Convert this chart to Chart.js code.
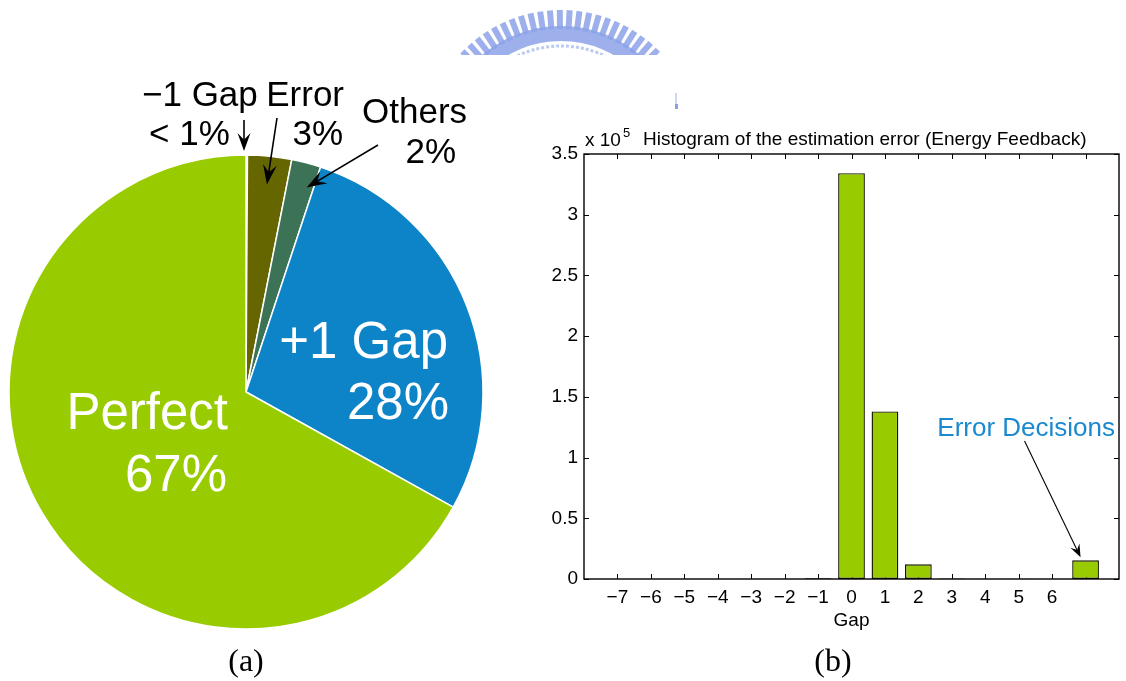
<!DOCTYPE html>
<html>
<head>
<meta charset="utf-8">
<title>Gap estimation error</title>
<script src="https://cdn.jsdelivr.net/npm/chart.js@4.4.0/dist/chart.umd.min.js"></script>
<style>
  html, body { margin: 0; padding: 0; background: #fff; }
  body { position: relative; width: 1126px; height: 681px; overflow: hidden; }
  canvas { position: absolute; top: 0; }
  #emblem { left: 0; z-index: 0; }
  #pieCanvas { left: 0; z-index: 1; }
  #barCanvas { left: 530px; z-index: 1; }
  .caption {
    position: absolute; top: 640px; width: 80px; text-align: center;
    font-family: "Liberation Serif", "DejaVu Serif", serif; font-size: 32px; color: #000;
    line-height: 40px; z-index: 2;
  }
</style>
</head>
<body>
<canvas id="emblem" width="1126" height="681"></canvas>
<canvas id="pieCanvas" width="530" height="681"></canvas>
<canvas id="barCanvas" width="596" height="681"></canvas>
<div class="caption" style="left:206px">(a)</div>
<div class="caption" style="left:793px">(b)</div>

<script>
// ---- pie: share of each estimation outcome (percent) ----
const sliceLabels      = ['\u22121 Gap', 'Error', 'Others', '+1 Gap', 'Perfect'];
const slicePercentText = ['< 1%', '3%', '2%', '28%', '67%'];
const sliceValues      = [0.1, 3, 2, 28, 67];
const sliceColors      = ['#e8e8e8', '#666600', '#3c7356', '#0c84c7', '#99cc00'];

// ---- histogram: estimation error per gap bin (counts) ----
const gapBins       = [-7, -6, -5, -4, -3, -2, -1, 0, 1, 2, 3, 4, 5, 6, 7];
const gapCounts     = [50, 60, 80, 100, 150, 250, 600, 334200, 138000, 12100, 400, 200, 120, 80, 15400];
const gapTickLabels = ['\u22127', '\u22126', '\u22125', '\u22124', '\u22123', '\u22122', '\u22121',
                       '0', '1', '2', '3', '4', '5', '6', ''];
const countTickLabels = ['0', '0.5', '1', '1.5', '2', '2.5', '3', '3.5'];

const SANS = "'Liberation Sans', Arial, Helvetica, sans-serif";

// ---------- background emblem ----------
(function drawEmblem() {
  const c = document.getElementById('emblem').getContext('2d');
  c.save();
  c.beginPath(); c.rect(440, 0, 250, 55); c.clip();
  c.filter = 'blur(0.7px)';
  const cx = 561, cy = 148;
  c.fillStyle = 'rgba(140,162,232,0.85)';
  c.beginPath();
  c.arc(cx, cy, 122, 0, Math.PI * 2);
  c.arc(cx, cy, 107, 0, Math.PI * 2, true);
  c.fill();
  for (let a = -62; a <= 62; a += 4.1) {
    c.save();
    c.translate(cx, cy);
    c.rotate(a * Math.PI / 180);
    c.fillRect(-3, -138, 6, 19);
    c.restore();
  }
  c.strokeStyle = 'rgba(180,196,240,0.9)';
  c.lineWidth = 3;
  c.setLineDash([3, 2]);
  c.beginPath(); c.arc(cx, cy, 102, Math.PI, Math.PI * 2); c.stroke();
  c.restore();
  // small fragment to the right
  c.fillStyle = 'rgba(195,205,238,0.8)';
  c.fillRect(675, 93, 2, 14);
  c.fillStyle = 'rgba(130,150,228,0.9)';
  c.fillRect(675, 104, 3, 5);
})();

// ---------- helpers ----------
function drawArrow(ctx, x1, y1, x2, y2, len, wid, lw) {
  const ang = Math.atan2(y2 - y1, x2 - x1);
  ctx.save();
  ctx.strokeStyle = '#000';
  ctx.fillStyle = '#000';
  ctx.lineWidth = lw;
  ctx.beginPath();
  ctx.moveTo(x1, y1);
  ctx.lineTo(x2 - Math.cos(ang) * len * 0.6, y2 - Math.sin(ang) * len * 0.6);
  ctx.stroke();
  ctx.translate(x2, y2);
  ctx.rotate(ang);
  ctx.beginPath();
  ctx.moveTo(0, 0);
  ctx.lineTo(-len, -wid / 2);
  ctx.lineTo(-len * 0.62, 0);
  ctx.lineTo(-len, wid / 2);
  ctx.closePath();
  ctx.fill();
  ctx.restore();
}

function pointOnArc(el, angle, r) {
  return { x: el.x + Math.cos(angle) * r, y: el.y + Math.sin(angle) * r };
}

// ---------- pie labels and call-outs ----------
const pieLabelPlugin = {
  id: 'pieLabels',
  afterDraw(chart) {
    const ctx = chart.ctx;
    const arcs = chart.getDatasetMeta(0).data;
    const cx = arcs[0].x, cy = arcs[0].y, R = arcs[0].outerRadius;
    ctx.save();

    // labels inside the two large slices
    ctx.fillStyle = '#fff';
    ctx.font = '51px ' + SANS;
    ctx.textAlign = 'right';
    ctx.textBaseline = 'alphabetic';
    ctx.fillText(sliceLabels[4], cx - 18, cy + 37);
    ctx.fillText(slicePercentText[4], cx - 19, cy + 99);
    ctx.fillText(sliceLabels[3], cx + 202, cy - 34);
    ctx.fillText(slicePercentText[3], cx + 203, cy + 27);

    // labels outside for the small slices
    ctx.fillStyle = '#000';
    ctx.font = '35px ' + SANS;
    ctx.textAlign = 'left';
    ctx.fillText(sliceLabels[0], cx - 104, cy - 286);
    ctx.fillText(slicePercentText[0], cx - 97, cy - 247);
    ctx.textAlign = 'right';
    ctx.fillText(sliceLabels[1], cx + 98, cy - 286);
    ctx.fillText(slicePercentText[1], cx + 97, cy - 247);
    ctx.textAlign = 'left';
    ctx.fillText(sliceLabels[2], cx + 116, cy - 269);
    ctx.textAlign = 'right';
    ctx.fillText(slicePercentText[2], cx + 210, cy - 229);

    // arrows pointing at the small slices
    const a0 = arcs[0];
    const t0 = pointOnArc(a0, a0.startAngle, R + 4);
    drawArrow(ctx, t0.x - 2, t0.y - 31, t0.x - 2, t0.y, 18, 13, 1.6);

    const a1 = arcs[1];
    const t1 = pointOnArc(a1, (a1.startAngle + a1.endAngle) / 2, R * 0.88);
    drawArrow(ctx, cx + 31, cy - 274, t1.x, t1.y, 20, 14, 1.6);

    const a2 = arcs[2];
    const t2 = pointOnArc(a2, a2.startAngle + (a2.endAngle - a2.startAngle) * 0.75, R * 0.9);
    drawArrow(ctx, cx + 132, cy - 247, t2.x, t2.y, 20, 14, 1.6);

    ctx.restore();
  }
};

new Chart(document.getElementById('pieCanvas'), {
  type: 'pie',
  data: {
    labels: sliceLabels,
    datasets: [{
      data: sliceValues,
      backgroundColor: sliceColors,
      borderColor: '#ffffff',
      borderWidth: 1.5
    }]
  },
  options: {
    responsive: false,
    animation: false,
    radius: 237,
    layout: { padding: { left: 8, right: 46, top: 154, bottom: 51 } },
    plugins: { legend: { display: false }, tooltip: { enabled: false } }
  },
  plugins: [pieLabelPlugin]
});

// ---------- histogram frame, inward ticks and annotations ----------
const frameLen = 5;
const axesFrame = {
  id: 'axesFrame',
  beforeDatasetsDraw(chart) {
    const { ctx, chartArea: a, scales: { x, y } } = chart;
    ctx.save();
    ctx.strokeStyle = '#000';
    ctx.lineWidth = 1;
    ctx.beginPath();
    x.ticks.forEach(t => {
      if (t.value <= x.min || t.value >= x.max) return;
      const px = Math.round(x.getPixelForValue(t.value)) + 0.5;
      ctx.moveTo(px, a.bottom); ctx.lineTo(px, a.bottom - frameLen);
      ctx.moveTo(px, a.top); ctx.lineTo(px, a.top + frameLen);
    });
    y.ticks.forEach(t => {
      const py = Math.round(y.getPixelForValue(t.value)) + 0.5;
      ctx.moveTo(a.left, py); ctx.lineTo(a.left + frameLen, py);
      ctx.moveTo(a.right, py); ctx.lineTo(a.right - frameLen, py);
    });
    ctx.stroke();
    ctx.restore();
  },
  afterDraw(chart) {
    const { ctx, chartArea: a, scales: { x, y } } = chart;
    ctx.save();
    ctx.strokeStyle = '#000';
    ctx.lineWidth = 1.4;
    ctx.strokeRect(a.left, a.top, a.right - a.left, a.bottom - a.top);

    ctx.fillStyle = '#000';
    ctx.textBaseline = 'alphabetic';
    ctx.textAlign = 'left';
    // exponent marker and title
    ctx.font = '19px ' + SANS;
    ctx.fillText('x 10', a.left + 1, a.top - 8);
    ctx.font = '13px ' + SANS;
    ctx.fillText('5', a.left + 39, a.top - 17);
    ctx.font = '19px ' + SANS;
    ctx.fillText('Histogram of the estimation error (Energy Feedback)', a.left + 59, a.top - 9);

    // axis title
    ctx.textAlign = 'center';
    ctx.fillText('Gap', (a.left + a.right) / 2, a.bottom + 47);

    // call-out for the error bin
    const last = gapBins.length - 1;
    const bx = x.getPixelForValue(gapBins[last]);
    const by = y.getPixelForValue(gapCounts[last]);
    ctx.fillStyle = '#1a89cf';
    ctx.font = '26px ' + SANS;
    ctx.textAlign = 'right';
    ctx.fillText('Error Decisions', a.right - 4, a.top + 282);
    drawArrow(ctx, bx - 61, a.top + 287, bx - 5, by - 3, 13, 10, 1.1);
    ctx.restore();
  }
};

new Chart(document.getElementById('barCanvas'), {
  type: 'bar',
  data: {
    datasets: [{
      data: gapBins.map((b, i) => ({ x: b, y: gapCounts[i] })),
      backgroundColor: '#99cc00',
      borderColor: '#141400',
      borderWidth: 1.4,
      borderSkipped: false,
      barPercentage: 1,
      categoryPercentage: 0.8
    }]
  },
  options: {
    responsive: false,
    animation: false,
    layout: { padding: { left: 0, right: 4, top: 154, bottom: 62 } },
    plugins: { legend: { display: false }, tooltip: { enabled: false } },
    scales: {
      x: {
        type: 'linear',
        min: -8, max: 8,
        offset: false,
        grid: { display: false, drawTicks: false },
        border: { display: false },
        afterFit(s) { s.height = 40; },
        ticks: {
          stepSize: 1, autoSkip: false, maxRotation: 0, padding: 7,
          color: '#000', font: { family: SANS, size: 19 },
          callback: v => { const i = gapBins.indexOf(v); return i >= 0 ? gapTickLabels[i] : ''; }
        }
      },
      y: {
        min: 0, max: 350000,
        grid: { display: false, drawTicks: false },
        border: { display: false },
        afterFit(s) { s.width = 54; },
        ticks: {
          stepSize: 50000, padding: 6,
          color: '#000', font: { family: SANS, size: 19 },
          callback: v => countTickLabels[Math.round(v / 50000)]
        }
      }
    }
  },
  plugins: [axesFrame]
});
</script>
</body>
</html>
